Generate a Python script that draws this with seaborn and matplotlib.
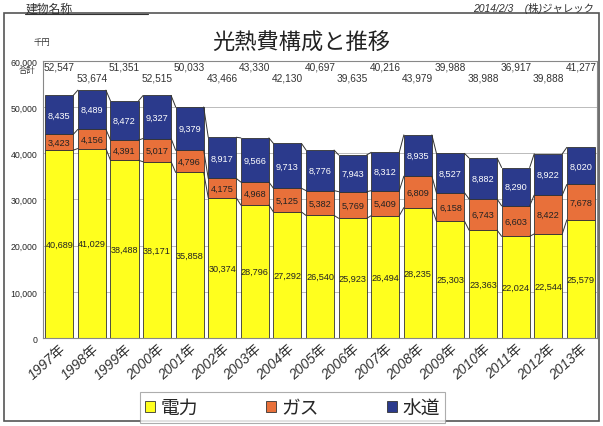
import numpy as np
import pandas as pd
import seaborn as sns
import matplotlib.pyplot as plt
from matplotlib.patches import Rectangle
from matplotlib.lines import Line2D

years = ['1997年', '1998年', '1999年', '2000年', '2001年', '2002年', '2003年', '2004年', '2005年',
         '2006年', '2007年', '2008年', '2009年', '2010年', '2011年', '2012年', '2013年']
denryoku = [40689, 41029, 38488, 38171, 35858, 30374, 28796, 27292, 26540,
            25923, 26494, 28235, 25303, 23363, 22024, 22544, 25579]
gas = [3423, 4156, 4391, 5017, 4796, 4175, 4968, 5125, 5382,
       5769, 5409, 6809, 6158, 6743, 6603, 8422, 7678]
suido = [8435, 8489, 8472, 9327, 9379, 8917, 9566, 9713, 8776,
         7943, 8312, 8935, 8527, 8882, 8290, 8922, 8020]
totals = [52547, 53674, 51351, 52515, 50033, 43466, 43330, 42130, 40697,
          39635, 40216, 43979, 39988, 38988, 36917, 39888, 41277]
series_names = ['電力', 'ガス', '水道']
colors = ['#FFFF1E', '#E8703A', '#2B3A8C']
label_colors = ['#222222', '#222222', 'white']

sns.set_style('white')
plt.rcParams['font.family'] = ['Noto Sans CJK JP', 'DejaVu Sans']
num_font = ['Liberation Sans', 'DejaVu Sans']
mixed_font = ['Liberation Sans', 'Noto Sans CJK JP']

df = pd.DataFrame({'year': years, '電力': denryoku, 'ガス': gas, '水道': suido})

fig = plt.figure(figsize=(6.03, 4.27), dpi=100)
# outer frame
fig.patches.append(Rectangle((0.006, 0.012), 0.988, 0.955, transform=fig.transFigure,
                             fill=False, edgecolor='#555555', linewidth=1.2))
ax = fig.add_axes([0.0713, 0.206, 0.919, 0.649])

w = 0.86
bottom = np.zeros(len(years))
for name, col, lc in zip(series_names, colors, label_colors):
    vals = df[name].values
    sns.barplot(x=df['year'], y=vals, bottom=bottom, color=col, width=w,
                edgecolor='#333333', linewidth=0.6, saturation=1, ax=ax)
    top = bottom + vals
    # series lines between bars
    for i in range(len(years) - 1):
        ax.plot([i + w / 2, i + 1 - w / 2], [top[i], top[i + 1]], color='#333333', lw=0.7)
    for i, v in enumerate(vals):
        ax.text(i, bottom[i] + v / 2, f'{v:,}', ha='center', va='center',
                fontsize=6.6, color=lc, family=num_font)
    bottom = top

for i, t in enumerate(totals):
    y = 58800 if i % 2 == 0 else 56500
    ax.text(i, y, f'{t:,}', ha='center', va='center', fontsize=7.3, color='#333333',
            family=num_font)

ax.set_ylim(0, 60000)
ax.set_xlim(-0.5, len(years) - 0.5)
ax.set_yticks(range(0, 60001, 10000))
ax.set_yticklabels([f'{v:,}' for v in range(0, 60001, 10000)], fontsize=6.3, family=num_font)
ax.yaxis.grid(True, color='#bbbbbb', lw=0.7)
ax.set_axisbelow(True)
ax.tick_params(axis='y', length=0, pad=4)
ax.tick_params(axis='x', length=0, pad=2)
ax.set_xticks(range(len(years)))
ax.set_xticklabels(years, rotation=42, ha='right', rotation_mode='anchor', fontsize=10,
                   color='#333333', style='italic', family=mixed_font)
ax.set_xlabel('')
ax.set_ylabel('')
for s in ax.spines.values():
    s.set_color('#888888')
    s.set_linewidth(0.8)

# texts
fig.text(0.5, 0.90, '光熱費構成と推移', ha='center', va='center', fontsize=16, color='#222222')
fig.text(0.07, 0.90, '千円', ha='center', va='center', fontsize=6, color='#333333')
fig.text(0.045, 0.835, '合計', ha='center', va='center', fontsize=6, color='#333333')
fig.text(0.042, 0.979, '建物名称', ha='left', va='center', fontsize=8.5, color='#333333')
fig.add_artist(Line2D([0.042, 0.245], [0.966, 0.966], color='#333333', lw=0.8,
                      transform=fig.transFigure))
fig.text(0.985, 0.979, '2014/2/3    (株)ジャレック', ha='right', va='center', fontsize=7.5,
         color='#333333', style='italic', family=mixed_font)

handles = [Rectangle((0, 0), 1, 1, facecolor=c, edgecolor='#333333', lw=0.6) for c in colors]
leg = fig.legend(handles, series_names, loc='center', bbox_to_anchor=(0.485, 0.043), ncol=3,
                 fontsize=13.5, frameon=True, fancybox=False, handlelength=0.55, handleheight=0.55,
                 columnspacing=3.6, handletextpad=0.3, borderpad=0.25, borderaxespad=0)
leg.get_frame().set_edgecolor('#999999')
leg.get_frame().set_linewidth(0.8)

fig.savefig('out.png', dpi=100)
